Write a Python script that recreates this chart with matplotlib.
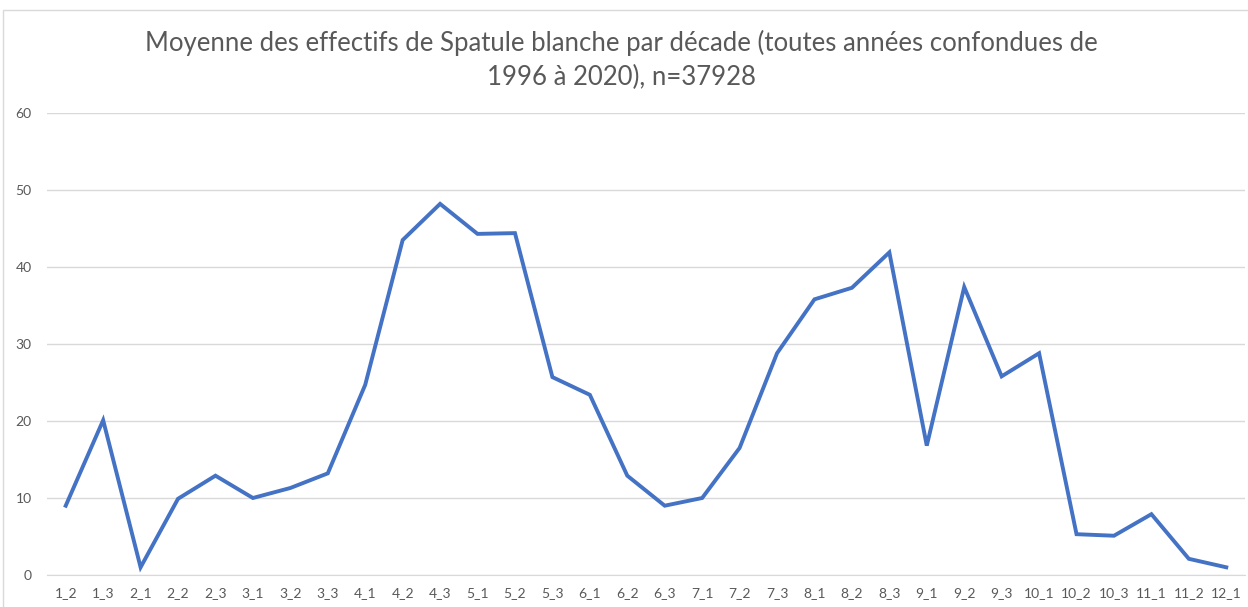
import matplotlib.pyplot as plt
from matplotlib.patches import Rectangle

decades = ["1_2", "1_3", "2_1", "2_2", "2_3", "3_1", "3_2", "3_3", "4_1", "4_2",
           "4_3", "5_1", "5_2", "5_3", "6_1", "6_2", "6_3", "7_1", "7_2", "7_3",
           "8_1", "8_2", "8_3", "9_1", "9_2", "9_3", "10_1", "10_2", "10_3", "11_1",
           "11_2", "12_1"]
moyennes = [9.0, 20.1, 1.0, 9.9, 12.9, 10.0, 11.3, 13.2, 24.7, 43.5,
            48.2, 44.3, 44.4, 25.7, 23.4, 12.9, 9.0, 10.0, 16.5, 28.8,
            35.8, 37.3, 41.9, 16.8, 37.4, 25.8, 28.8, 5.3, 5.1, 7.9,
            2.1, 1.0]
y_ticks = [0, 10, 20, 30, 40, 50, 60]

plt.rcParams["font.family"] = ["Lato", "DejaVu Sans"]
gris = "#595959"

fig = plt.figure(figsize=(12.48, 6.07), dpi=100)
fig.patches.append(Rectangle((3 / 1248, -0.01), 1.02, 1 - 10 / 607 + 0.01,
                             transform=fig.transFigure, fill=False,
                             edgecolor="#D9D9D9", linewidth=1))

ax = fig.add_axes([47 / 1248, 1 - 575 / 607, (1245 - 47) / 1248, (575 - 113) / 607])
x = list(range(len(decades)))
ax.plot(x, moyennes, color="#4472C4", linewidth=2.8, solid_joinstyle="miter")

ax.set_xlim(-0.5, len(decades) - 0.5)
ax.set_ylim(0, 60)
ax.set_yticks(y_ticks)
ax.set_xticks(x)
ax.set_xticklabels(decades)
ax.grid(axis="y", color="#D9D9D9", linewidth=1)
ax.set_axisbelow(True)
for side in ["top", "right", "left"]:
    ax.spines[side].set_visible(False)
ax.spines["bottom"].set_color("#D9D9D9")
ax.tick_params(axis="both", length=0, labelsize=10, labelcolor=gris)
ax.tick_params(axis="y", pad=11)
ax.tick_params(axis="x", pad=9)

fig.text(0.498, 1 - 60 / 607,
         "Moyenne des effectifs de Spatule blanche par décade (toutes années confondues de\n1996 à 2020), n=37928",
         ha="center", va="center", fontsize=18.5, color=gris, linespacing=1.4)

fig.savefig("out.png", dpi=100)
